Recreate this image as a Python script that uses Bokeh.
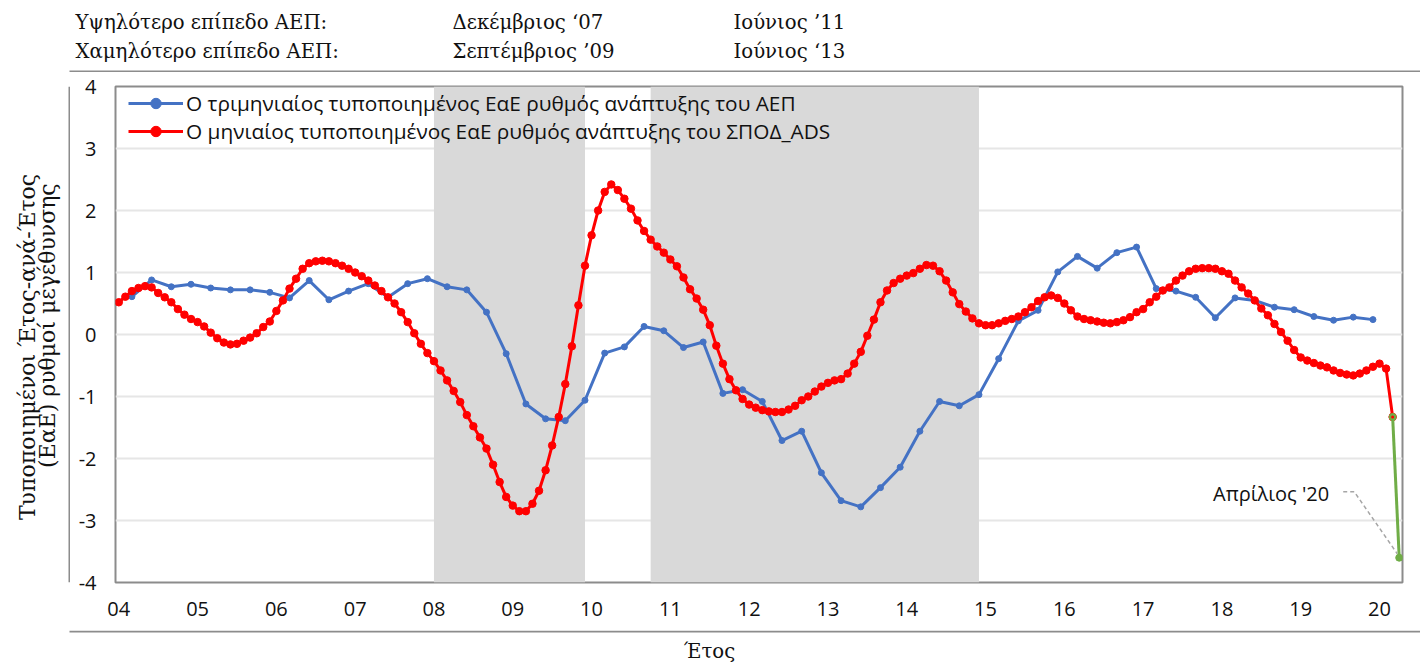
import numpy as np
import pandas as pd
from bokeh.plotting import figure
from bokeh.layouts import column, row
from bokeh.models import (Range1d, FixedTicker, Legend, LegendItem, Label,
                          ColumnDataSource)
from bokeh.embed import file_html
from bokeh.resources import INLINE

# ---------------- data ----------------
ads_start = "2004-01"          # monthly standardized YoY growth of ADS index
ads_values = [
    0.52, 0.61, 0.70, 0.75, 0.78, 0.76, 0.67, 0.60, 0.52, 0.41, 0.32, 0.25,      # 2004
    0.20, 0.13, 0.03, -0.06, -0.13, -0.16, -0.15, -0.10, -0.05, 0.02, 0.12, 0.21, # 2005
    0.38, 0.55, 0.74, 0.90, 1.06, 1.15, 1.18, 1.19, 1.18, 1.15, 1.11, 1.06,      # 2006
    1.00, 0.94, 0.87, 0.79, 0.70, 0.60, 0.50, 0.36, 0.20, 0.02, -0.15, -0.30,    # 2007
    -0.43, -0.58, -0.74, -0.91, -1.09, -1.30, -1.48, -1.66, -1.84, -2.10, -2.38, -2.62,  # 2008
    -2.76, -2.85, -2.85, -2.73, -2.52, -2.19, -1.79, -1.33, -0.80, -0.19, 0.47, 1.11,    # 2009
    1.60, 2.00, 2.30, 2.42, 2.33, 2.19, 2.03, 1.84, 1.67, 1.53, 1.42, 1.32,      # 2010
    1.21, 1.10, 0.92, 0.73, 0.58, 0.40, 0.15, -0.18, -0.47, -0.72, -0.90, -1.04, # 2011
    -1.13, -1.18, -1.22, -1.24, -1.25, -1.25, -1.21, -1.15, -1.06, -1.00, -0.92, -0.84,  # 2012
    -0.78, -0.74, -0.72, -0.63, -0.47, -0.28, -0.02, 0.24, 0.52, 0.71, 0.83, 0.90,      # 2013
    0.95, 0.99, 1.06, 1.12, 1.11, 1.02, 0.87, 0.68, 0.49, 0.37, 0.26, 0.18,      # 2014
    0.15, 0.15, 0.18, 0.22, 0.25, 0.29, 0.36, 0.44, 0.54, 0.60, 0.63, 0.59,      # 2015
    0.50, 0.39, 0.29, 0.25, 0.23, 0.21, 0.19, 0.18, 0.20, 0.23, 0.28, 0.36,      # 2016
    0.41, 0.52, 0.61, 0.71, 0.76, 0.87, 0.95, 1.02, 1.06, 1.07, 1.07, 1.06,      # 2017
    1.02, 0.98, 0.87, 0.76, 0.66, 0.55, 0.42, 0.31, 0.17, 0.04, -0.10, -0.25,    # 2018
    -0.37, -0.42, -0.46, -0.50, -0.53, -0.58, -0.62, -0.645, -0.66, -0.63, -0.58, -0.52, # 2019
    -0.47, -0.55, -1.33,                                                          # 2020
]
covid_months = ["2020-03", "2020-04"]
covid_values = [-1.33, -3.60]

gdp_start = "2004-03"          # quarterly standardized YoY GDP growth (quarter-end months)
gdp_values = [
    0.61, 0.88, 0.77, 0.81,
    0.75, 0.72, 0.72, 0.68,
    0.59, 0.87, 0.56, 0.70,
    0.82, 0.60, 0.82, 0.90,
    0.77, 0.72, 0.36, -0.31,
    -1.12, -1.36, -1.39, -1.06,
    -0.30, -0.20, 0.13, 0.06,
    -0.21, -0.12, -0.95, -0.89,
    -1.08, -1.71, -1.56, -2.23,
    -2.68, -2.78, -2.47, -2.14,
    -1.56, -1.08, -1.15, -0.97,
    -0.39, 0.22, 0.39, 1.01,
    1.26, 1.07, 1.32, 1.41,
    0.74, 0.70, 0.60, 0.27,
    0.59, 0.55, 0.44, 0.40,
    0.29, 0.23, 0.28, 0.24,
]

recession_start = ["2008-01", "2010-10"]
recession_end = ["2009-12", "2014-12"]

year_ticks = list(range(2004, 2021))
year_labels = ["04", "05", "06", "07", "08", "09", "10", "11", "12", "13",
               "14", "15", "16", "17", "18", "19", "20"]
y_ticks = [-4, -3, -2, -1, 0, 1, 2, 3, 4]
y_labels = ["-4", "-3", "-2", "-1", "0", "1", "2", "3", "4"]

header_rows = [
    ["Υψηλότερο επίπεδο ΑΕΠ:", "Δεκέμβριος ‘07", "Ιούνιος ’11"],
    ["Χαμηλότερο επίπεδο ΑΕΠ:", "Σεπτέμβριος ’09", "Ιούνιος ‘13"],
]
legend_gdp = "Ο τριμηνιαίος τυποποιημένος ΕαΕ ρυθμός ανάπτυξης του ΑΕΠ"
legend_ads = "Ο μηνιαίος τυποποιημένος ΕαΕ ρυθμός ανάπτυξης του ΣΠΟΔ_ADS"
ylabel_lines = ["Τυποποιημένοι Έτος-ανά-Έτος", "(ΕαΕ) ρυθμοί μεγέθυνσης"]
xlabel = "Έτος"
callout = "Απρίλιος '20"


def dec_year(ts):
    ts = pd.Timestamp(ts)
    return ts.year + (ts.month - 1) / 12.0


ads_x = [dec_year(d) for d in pd.date_range(ads_start, periods=len(ads_values), freq="MS")]
gdp_x = [dec_year(d) for d in pd.date_range(gdp_start, periods=len(gdp_values), freq="3MS")]
cov_x = [dec_year(d) for d in covid_months]

SERIF = "DejaVu Serif"
SANS = "Open Sans"
TXT = "#111111"
BORDER = "#8c8c8c"
PAGE_W = 1420
TOP_H = 72       # header strip height
BOT_Y = 630      # outer chart border bottom
PAGE_H = 662
LEFT_W = 70      # y-title strip width


def blank_fig(w, h, xr, yr):
    f = figure(width=w, height=h, output_backend="svg", toolbar_location=None,
               x_range=Range1d(*xr), y_range=Range1d(*yr),
               x_axis_type=None, y_axis_type=None,
               min_border_left=0, min_border_right=0, min_border_top=0, min_border_bottom=0)
    f.grid.grid_line_color = None
    f.outline_line_color = None
    f.background_fill_color = "white"
    f.border_fill_color = "white"
    return f


# ---------------- header strip (page y 0..72) ----------------
head = blank_fig(PAGE_W, TOP_H, (0, PAGE_W), (TOP_H, 0))
for r, py in zip(header_rows, [22, 51]):
    for txt, px in zip(r, [75, 452, 733]):
        head.add_layout(Label(x=px, y=py, text=txt, text_align="left", text_baseline="middle",
                              text_font=SERIF, text_font_size="19.7px", text_color=TXT))
head.line([LEFT_W - 1, PAGE_W], [TOP_H - 1, TOP_H - 1], line_color=BORDER, line_width=2)

# ---------------- y title strip (page x 0..70, y 72..630) ----------------
side = blank_fig(LEFT_W, BOT_Y - TOP_H, (0, LEFT_W), (BOT_Y, TOP_H))
for txt, px, py in zip(ylabel_lines, [27, 47], [365, 341]):
    side.add_layout(Label(x=px, y=py, text=txt, angle=np.pi / 2, text_align="center",
                          text_baseline="middle", text_font=SERIF, text_font_size="22px",
                          text_color=TXT))
side.line([LEFT_W - 1, LEFT_W - 1], [TOP_H, BOT_Y], line_color=BORDER, line_width=2)

# ---------------- x title strip (page y 630..662) ----------------
foot = blank_fig(PAGE_W, PAGE_H - BOT_Y, (0, PAGE_W), (PAGE_H, BOT_Y))
foot.line([LEFT_W - 1, PAGE_W], [BOT_Y + 1, BOT_Y + 1], line_color=BORDER, line_width=2)
foot.add_layout(Label(x=709, y=651, text=xlabel, text_align="center", text_baseline="middle",
                      text_font=SERIF, text_font_size="19.7px", text_color=TXT))

# ---------------- main chart ----------------
X0, X1 = 2004 - 0.5 / 12, 2020.25 + 0.5 / 12
MW, MH = PAGE_W - LEFT_W, BOT_Y - TOP_H
BL, BR, BT, BB = 45, 18, 14, 48
FW, FH = MW - BL - BR, MH - BT - BB
PXX = FW / (X1 - X0)
PXY = FH / 8.0

p = figure(width=MW, height=MH, output_backend="svg", toolbar_location=None,
           x_range=Range1d(X0, X1), y_range=Range1d(-4, 4),
           min_border_left=BL, min_border_right=BR, min_border_top=BT, min_border_bottom=BB)
p.background_fill_color = "white"
p.border_fill_color = "white"
p.outline_line_color = BORDER
p.outline_line_width = 2

p.xgrid.grid_line_color = None
p.ygrid.grid_line_color = "#e6e6e6"
p.ygrid.grid_line_width = 2

p.xaxis.ticker = FixedTicker(ticks=year_ticks)
p.xaxis.major_label_overrides = {t: l for t, l in zip(year_ticks, year_labels)}
p.yaxis.ticker = FixedTicker(ticks=y_ticks)
p.yaxis.major_label_overrides = {t: l for t, l in zip(y_ticks, y_labels)}
for ax in (p.xaxis, p.yaxis):
    ax.axis_line_color = None
    ax.major_tick_line_color = None
    ax.minor_tick_line_color = None
    ax.major_tick_out = 0
    ax.major_tick_in = 0
    ax.major_label_text_font = SANS
    ax.major_label_text_font_size = "20px"
    ax.major_label_text_color = TXT
p.xaxis.major_label_standoff = 19
p.yaxis.major_label_standoff = 19

# recession shading
p.quad(left=[dec_year(s) for s in recession_start], right=[dec_year(e) for e in recession_end],
       bottom=-4, top=4, fill_color="#d9d9d9", line_color=None)

BLUE, RED, GREEN = "#4472c4", "#ff0000", "#70ad47"
gsrc = ColumnDataSource(dict(x=gdp_x, y=gdp_values))
asrc = ColumnDataSource(dict(x=ads_x, y=ads_values))
csrc = ColumnDataSource(dict(x=cov_x, y=covid_values))

gl = p.line("x", "y", source=gsrc, line_color=BLUE, line_width=3)
gs = p.scatter("x", "y", source=gsrc, size=6, fill_color=BLUE, line_color=BLUE)
al = p.line("x", "y", source=asrc, line_color=RED, line_width=3)
ac = p.scatter("x", "y", source=asrc, size=7.5, fill_color=RED, line_color=RED)
cl = p.line("x", "y", source=csrc, line_color=GREEN, line_width=3)
cs = p.scatter("x", "y", source=csrc, size=7, fill_color=GREEN, line_color=GREEN)
p.scatter([cov_x[0]], [covid_values[0]], size=3, fill_color=RED, line_color=None)

# callout
ax_, ay_ = cov_x[-1], covid_values[-1]
p.line([ax_ - 56 / PXX, ax_ - 45 / PXX, ax_ - 2 / PXX],
       [ay_ + 66 / PXY, ay_ + 66 / PXY, ay_ + 4 / PXY],
       line_color="#a6a6a6", line_width=1.5, line_dash="4 3")
p.add_layout(Label(x=ax_ - 70 / PXX, y=ay_ + 64 / PXY, text=callout, text_align="right",
                   text_baseline="middle", text_font=SANS, text_font_size="20px",
                   text_color=TXT))

legend = Legend(items=[LegendItem(label=legend_gdp, renderers=[gl, gs]),
                       LegendItem(label=legend_ads, renderers=[al, ac])],
                location=(11, 435), padding=2, margin=0, spacing=0,
                glyph_width=55, glyph_height=26, label_height=26, label_standoff=3,
                label_text_font=SANS, label_text_font_size="20.8px",
                label_text_color=TXT,
                background_fill_alpha=0, border_line_alpha=0)
p.add_layout(legend)

layout = column(head, row(side, p), foot)
open("out.html", "w").write(file_html(layout, INLINE))
